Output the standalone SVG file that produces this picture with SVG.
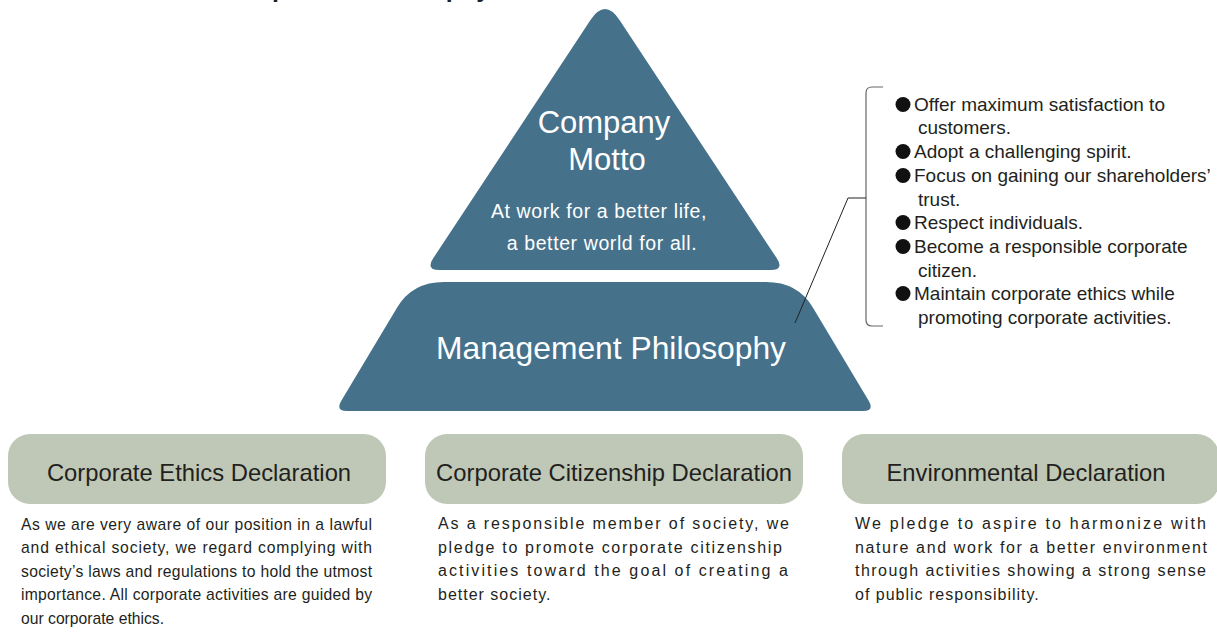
<svg xmlns="http://www.w3.org/2000/svg" width="1217" height="635" viewBox="0 0 1217 635">
<style>
.shape{fill:#46718b}
.wt{fill:#ffffff;font-family:"Liberation Sans",Arial,sans-serif;text-anchor:middle}
.box{fill:#bfc8b6}
.bt{fill:#231f20;font-family:"Liberation Sans",Arial,sans-serif;font-size:23.8px;text-anchor:middle}
.p1{fill:#231f20;font-family:"Liberation Sans",Arial,sans-serif;font-size:15.7px}
.p2{fill:#231f20;font-family:"Liberation Sans",Arial,sans-serif;font-size:16px;letter-spacing:1px}
.li{fill:#231f20;font-family:"Liberation Sans",Arial,sans-serif;font-size:19px}
.dot{fill:#111111}
.ln{fill:none;stroke:#222222;stroke-width:1}
.br{fill:none;stroke:#666666;stroke-width:1.2}
</style>
<rect width="1217" height="635" fill="#ffffff"/>
<g id="title">
<text x="229" y="-3" style="font-family:'Liberation Sans',Arial,sans-serif;font-size:25px;font-weight:bold;fill:#231f20">Corporate Philosophy</text>
</g>
<g id="node-motto">
<path class="shape" d="M590.5 20 Q605 -2 619.5 20 L776.8 258.3 Q784.5 270 770.5 270 L439.5 270 Q425.5 270 433.2 258.3 Z"/>
<text class="wt" x="604" y="133" font-size="31">Company</text>
<text class="wt" x="607" y="170" font-size="31">Motto</text>
<text class="wt" x="599" y="218" font-size="19.5" letter-spacing="0.6">At work for a better life,</text>
<text class="wt" x="602" y="250" font-size="19.5" letter-spacing="0.6">a better world for all.</text>
</g>
<g id="node-philosophy">
<path class="shape" d="M444 282 L766 282 Q798 282 813 307.8 L868.7 400.7 Q874.8 411 862.8 411 L347.2 411 Q335.2 411 341.3 400.7 L397 307.8 Q412 282 444 282 Z"/>
<text class="wt" x="611" y="359" font-size="31.8">Management Philosophy</text>
</g>
<g id="node-principles">
<path class="br" d="M883 87 H872 Q866 87 866 93 V320 Q866 326 872 326 H883"/>
<circle class="dot" cx="903" cy="104.5" r="7.5"/>
<circle class="dot" cx="903" cy="151.5" r="7.5"/>
<circle class="dot" cx="903" cy="175.5" r="7.5"/>
<circle class="dot" cx="903" cy="222.5" r="7.5"/>
<circle class="dot" cx="903" cy="246.5" r="7.5"/>
<circle class="dot" cx="903" cy="293.5" r="7.5"/>
<text class="li" x="914" y="111">Offer maximum satisfaction to</text>
<text class="li" x="918" y="134">customers.</text>
<text class="li" x="914" y="158">Adopt a challenging spirit.</text>
<text class="li" x="914" y="182">Focus on gaining our shareholders’</text>
<text class="li" x="918" y="206">trust.</text>
<text class="li" x="914" y="229">Respect individuals.</text>
<text class="li" x="914" y="253">Become a responsible corporate</text>
<text class="li" x="918" y="277">citizen.</text>
<text class="li" x="914" y="300">Maintain corporate ethics while</text>
<text class="li" x="918" y="324">promoting corporate activities.</text>
</g>
<g id="node-ethics">
<rect class="box" x="8" y="434" width="378" height="70" rx="22"/>
<text class="bt" x="199" y="481">Corporate Ethics Declaration</text>
<text class="p1" x="21" y="530" textLength="351" lengthAdjust="spacing">As we are very aware of our position in a lawful</text>
<text class="p1" x="21" y="553.4" textLength="351" lengthAdjust="spacing">and ethical society, we regard complying with</text>
<text class="p1" x="21" y="576.8" textLength="351" lengthAdjust="spacing">society’s laws and regulations to hold the utmost</text>
<text class="p1" x="21" y="600.2" textLength="351" lengthAdjust="spacing">importance. All corporate activities are guided by</text>
<text class="p1" x="21" y="623.6">our corporate ethics.</text>
</g>
<g id="node-citizenship">
<rect class="box" x="425" y="434" width="378" height="70" rx="22"/>
<text class="bt" x="614" y="481">Corporate Citizenship Declaration</text>
<text class="p2" x="438" y="529" textLength="352" lengthAdjust="spacing">As a responsible member of society, we</text>
<text class="p2" x="438" y="552.5" textLength="345" lengthAdjust="spacing">pledge to promote corporate citizenship</text>
<text class="p2" x="438" y="576" textLength="351" lengthAdjust="spacing">activities toward the goal of creating a</text>
<text class="p2" x="438" y="599.5">better society.</text>
</g>
<g id="node-environment">
<rect class="box" x="842" y="434" width="377" height="70" rx="22"/>
<text class="bt" x="1026" y="481">Environmental Declaration</text>
<text class="p2" x="855" y="529" textLength="352" lengthAdjust="spacing">We pledge to aspire to harmonize with</text>
<text class="p2" x="855" y="552.5" textLength="353" lengthAdjust="spacing">nature and work for a better environment</text>
<text class="p2" x="855" y="576" textLength="352" lengthAdjust="spacing">through activities showing a strong sense</text>
<text class="p2" x="855" y="599.5">of public responsibility.</text>
</g>
<g id="connectors">
<polyline class="ln" points="795,323 848,198 866,198"/>
</g>
</svg>
